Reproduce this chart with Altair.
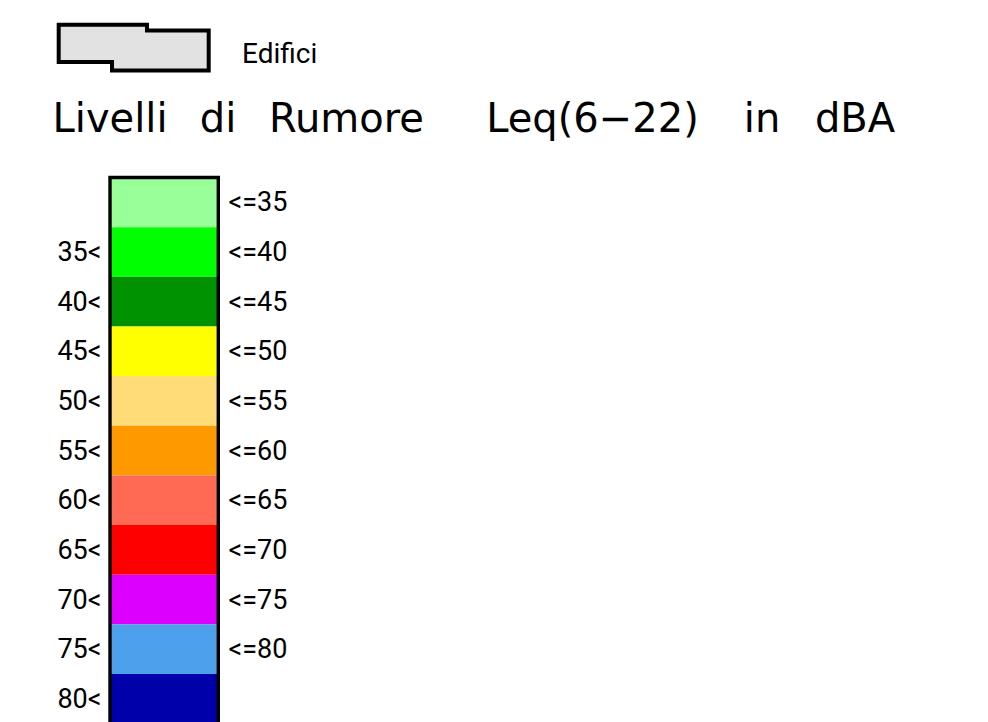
import altair as alt
import pandas as pd

# ---- data ----
BAND_COLORS = ["#99FF99", "#00FF00", "#009200", "#FFFF00", "#FFDC78",
               "#FF9900", "#FF6A55", "#FF0000", "#DC00FF", "#4DA0EB", "#0000AA"]
LEFT_LABELS = ["", "35<", "40<", "45<", "50<", "55<", "60<", "65<", "70<", "75<", "80<"]
RIGHT_LABELS = ["<=35", "<=40", "<=45", "<=50", "<=55", "<=60", "<=65", "<=70", "<=75", "<=80", ""]
TITLE_WORDS = ["Livelli", "di", "Rumore", "Leq(6\u221222)", "in", "dBA"]
BUILDING_LABEL = ["Edifici"]

# ---- layout ----
TITLE_CENTERS = [102, 210, 338.5, 584.5, 754, 847]
LABEL_FONT = "Roboto"
TITLE_FONT = "DejaVu Sans"
BUILDING_PATH = ("M-1,-0.305L0.177,-0.305L0.177,-0.228L1,-0.228L1,0.305"
                 "L-0.289,0.305L-0.289,0.192L-1,0.192Z")

n = len(BAND_COLORS)
bands = pd.DataFrame({
    "idx": list(range(n)),
    "color": BAND_COLORS,
    "left": LEFT_LABELS,
    "right": RIGHT_LABELS,
})

yscale = alt.Scale(domain=[0, n], range=[169.5, 169.5 + n * 49.65], nice=False, zero=False)

band_rects = alt.Chart(bands).mark_rect(stroke=None).transform_calculate(
    idx2="datum.idx + 1"
).encode(
    x=alt.value(102), x2=alt.value(210.3),
    y=alt.Y("idx:Q", scale=yscale, axis=None),
    y2="idx2:Q",
    fill=alt.Fill("color:N", scale=None, legend=None),
)

border = alt.Chart(bands).mark_rect(fill=None, stroke="black", strokeWidth=3.4).transform_aggregate(
    lo="min(idx)", hi="max(idx)"
).transform_calculate(
    n_end="datum.hi + 1", start="datum.lo"
).encode(
    x=alt.value(102), x2=alt.value(210.3),
    y=alt.Y("start:Q", scale=yscale, axis=None),
    y2="n_end:Q",
)

left_text = alt.Chart(bands).mark_text(
    align="right", baseline="middle", font=LABEL_FONT, fontSize=27, fontWeight="normal",
    dy=1, color="black"
).transform_calculate(mid="datum.idx + 0.5").encode(
    x=alt.value(93.5),
    y=alt.Y("mid:Q", scale=yscale, axis=None),
    text="left:N",
)

right_text = alt.Chart(bands).mark_text(
    align="left", baseline="middle", font=LABEL_FONT, fontSize=27, fontWeight="normal",
    dy=1, color="black"
).transform_calculate(mid="datum.idx + 0.5").encode(
    x=alt.value(220.5),
    y=alt.Y("mid:Q", scale=yscale, axis=None),
    text="right:N",
)

bdf = pd.DataFrame({"label": BUILDING_LABEL})
building_icon = alt.Chart(bdf).mark_point(
    shape=BUILDING_PATH, size=22500, filled=True, fill="#E2E2E2",
    stroke="black", strokeWidth=4, opacity=1, strokeJoin="miter"
).encode(x=alt.value(125.7), y=alt.value(39.6))

building_text = alt.Chart(bdf).mark_text(
    align="left", baseline="alphabetic", font=LABEL_FONT, fontSize=28, fontWeight="normal",
    color="black"
).encode(x=alt.value(234), y=alt.value(55.3), text="label:N")

title_layers = []
for w, xc in zip(TITLE_WORDS, TITLE_CENTERS):
    tdf = pd.DataFrame({"word": [w]})
    title_layers.append(
        alt.Chart(tdf).mark_text(
            align="center", baseline="alphabetic", font=TITLE_FONT, fontSize=40, color="black"
        ).encode(x=alt.value(xc), y=alt.value(123.7), text="word:N")
    )

chart = alt.layer(
    band_rects, border, left_text, right_text, building_icon, building_text, *title_layers
).properties(
    width=972, height=720, padding=0, background="white"
).configure_view(stroke=None)

chart.save("out.html", embed_options={"renderer": "svg", "actions": False})
